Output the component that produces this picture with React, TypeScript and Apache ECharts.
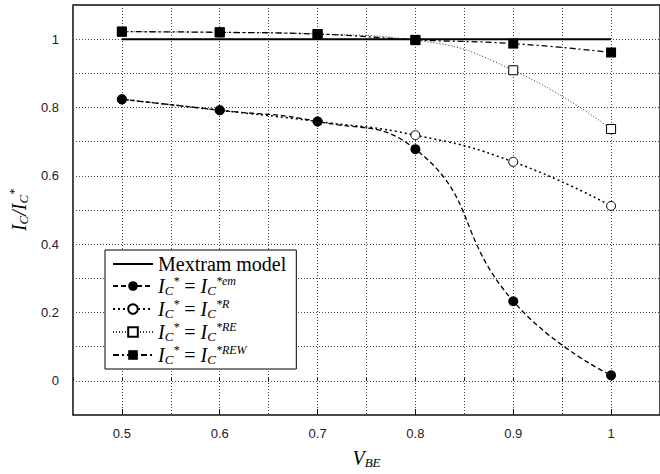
import React, { useEffect, useRef } from "react";
import * as echarts from "echarts";

const vbe = [0.5, 0.6, 0.7, 0.8, 0.9, 1.0];
const mextram = [1, 1, 1, 1, 1, 1];
const icEm = [0.824, 0.792, 0.759, 0.678, 0.233, 0.016];
const icR = [0.824, 0.792, 0.759, 0.719, 0.641, 0.512];
const icRE = [1.022, 1.02, 1.015, 0.997, 0.909, 0.737];
const icREW = [1.022, 1.02, 1.015, 0.998, 0.987, 0.961];
const xMajor = [0.5, 0.6, 0.7, 0.8, 0.9, 1.0];
const yLabels = [0, 0.2, 0.4, 0.6, 0.8, 1];
const seriesNames = ["Mextram model", "IC* = IC*em", "IC* = IC*R", "IC* = IC*RE", "IC* = IC*REW"];
const supers = ["", "em", "R", "RE", "REW"];

const serif = "'Liberation Serif', 'DejaVu Serif', serif";
const sans = "'Liberation Sans', Arial, sans-serif";

const LH = 22;
const mathRich = {
  i: { fontFamily: serif, fontStyle: "italic", fontSize: 20, color: "#000", lineHeight: LH },
  t: { fontFamily: serif, fontSize: 20, color: "#000", lineHeight: LH },
  sb: { fontFamily: serif, fontStyle: "italic", fontSize: 13, color: "#000", verticalAlign: "bottom", lineHeight: LH, padding: [8, 0, 0, 0] },
  sp: { fontFamily: serif, fontStyle: "italic", fontSize: 12, color: "#000", verticalAlign: "top", lineHeight: LH, padding: [0, 0, 8, 0] },
  eq: { fontFamily: serif, fontSize: 20, color: "#000", lineHeight: LH },
};

function pairs(ys: number[]) {
  return vbe.map((x, i) => [x, ys[i]]);
}

export default function App() {
  const ref = useRef<HTMLDivElement>(null);
  useEffect(() => {
    if (!ref.current) return;
    const chart = echarts.init(ref.current, null, { renderer: "svg" });
    const gridLine = { show: true, lineStyle: { color: "#444", width: 1, type: [1, 2] as any } };
    chart.setOption({
      animation: false,
      backgroundColor: "#fff",
      grid: { left: 72, top: 5, right: -2, bottom: 49, show: true, borderColor: "#111", borderWidth: 1.5, backgroundColor: "transparent" },
      xAxis: [
        {
          type: "value", min: 0.45, max: 1.05, interval: 0.05,
          axisLine: { show: false },
          axisTick: { show: true, inside: true, length: 3, lineStyle: { color: "#111" } },
          axisLabel: { customValues: xMajor, color: "#222", fontFamily: sans, fontSize: 13, margin: 12, formatter: (v: number) => String(Math.round(v * 10) / 10) },
          splitLine: gridLine,
          name: "{i|V}{sb|BE}", nameLocation: "middle", nameGap: 32,
          nameTextStyle: { rich: mathRich },
        },
        {
          type: "value", min: 0.45, max: 1.05, position: "bottom",
          axisLine: { show: false },
          axisTick: { show: true, inside: true, length: 6, customValues: xMajor, lineStyle: { color: "#111" } },
          axisLabel: { show: false },
          splitLine: { show: false },
        },
      ],
      yAxis: {
        type: "value", min: -0.1, max: 1.1, interval: 0.1,
        axisLine: { show: false },
        axisTick: { show: false },
        axisLabel: { customValues: yLabels, color: "#222", fontFamily: sans, fontSize: 13, margin: 14, formatter: (v: number) => String(Math.round(v * 10) / 10) },
        splitLine: gridLine,
        name: "{i|I}{sb|C}{i|/I}{sb|C}{sp|*}", nameLocation: "middle", nameRotate: 90, nameGap: 42,
        nameTextStyle: { rich: mathRich },
      },
      legend: {
        orient: "vertical", left: 105, top: 250,
        backgroundColor: "#fff", borderColor: "#000", borderWidth: 1,
        padding: [4, 10, 3, 7], itemGap: 1, itemWidth: 40, itemHeight: 12,
        data: [
          { name: seriesNames[0], icon: "path://M0,0 L40,0 L40,2 L0,2 Z" },
          seriesNames[1], seriesNames[2], seriesNames[3], seriesNames[4],
        ],
        formatter: (name: string) => {
          const k = seriesNames.indexOf(name);
          if (k === 0) return "{t|Mextram model}";
          return `{i|I}{sb|C}{sp|*}{eq| = }{i|I}{sb|C}{sp|*${supers[k]}}`;
        },
        textStyle: { rich: mathRich },
      },
      series: [
        {
          name: seriesNames[0], type: "line", data: pairs(mextram), showSymbol: false, symbol: "none",
          lineStyle: { color: "#000", width: 2, type: "solid" }, itemStyle: { color: "#000" }, z: 2,
        },
        {
          name: seriesNames[1], type: "line", data: pairs(icEm), smooth: 0.5, symbol: "circle", symbolSize: 10,
          lineStyle: { color: "#000", width: 1.3, type: [5, 3] }, itemStyle: { color: "#000" }, z: 5,
        },
        {
          name: seriesNames[2], type: "line", data: pairs(icR), smooth: 0.5, symbol: "circle", symbolSize: 9,
          lineStyle: { color: "#000", width: 1.5, type: [2, 3] }, itemStyle: { color: "#fff", borderColor: "#000", borderWidth: 1 }, z: 4,
        },
        {
          name: seriesNames[3], type: "line", data: pairs(icRE), smooth: 0.5, symbol: "rect", symbolSize: 9,
          lineStyle: { color: "#333", width: 1, type: [1, 2] }, itemStyle: { color: "#fff", borderColor: "#000", borderWidth: 1 }, z: 4,
        },
        {
          name: seriesNames[4], type: "line", data: pairs(icREW), smooth: 0.5, symbol: "rect", symbolSize: 10,
          lineStyle: { color: "#000", width: 1.3, type: [6, 3, 2, 3] }, itemStyle: { color: "#000" }, z: 5,
        },
      ],
    });
    return () => chart.dispose();
  }, []);
  return <div ref={ref} style={{ width: 660, height: 474, position: "absolute", left: 0, top: 0 }} />;
}
